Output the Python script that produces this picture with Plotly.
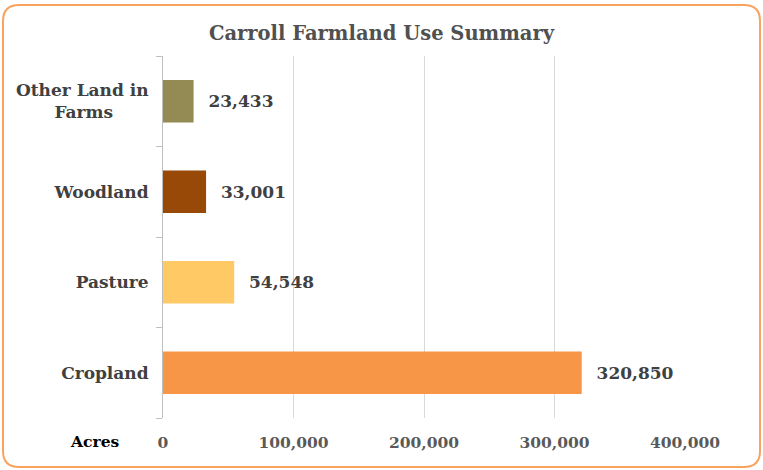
import plotly.graph_objects as go

categories = ["Cropland", "Pasture", "Woodland", "Other Land in<br>Farms"]
category_labels = ["Cropland", "Pasture", "Woodland",
                   "Other Land in<br>Farms" + "\u00a0" * 6]
acres = [320850, 54548, 33001, 23433]
bar_colors = ["#F79646", "#FFC966", "#984807", "#948A54"]
tick_vals = [0, 100000, 200000, 300000, 400000]
tick_text = ["0", "100,000", "200,000", "300,000", "400,000"]

W, H = 763, 470
L, R, T, B = 163, 78, 56, 52
pw, ph = W - L - R, H - T - B

def px(x):
    return (x - L) / pw

def py(y):
    return (H - B - y) / ph

FONT = "DejaVu Serif"
TXT = "#404040"

fig = go.Figure()
fig.add_trace(go.Bar(
    y=categories, x=acres, orientation="h",
    marker=dict(color=bar_colors, line=dict(width=0)),
    width=0.47,
    text=[f"{v:,}" for v in acres],
    texttemplate="<b>  %{text}</b>",
    textposition="outside",
    cliponaxis=False,
    textfont=dict(family=FONT, size=17, color=TXT),
    hoverinfo="skip",
))

# rounded border
x0, x1, y0, y1, r = 3, 760, 5, 467, 16
path = (
    f"M {px(x0 + r)} {py(y0)} L {px(x1 - r)} {py(y0)} "
    f"Q {px(x1)} {py(y0)} {px(x1)} {py(y0 + r)} "
    f"L {px(x1)} {py(y1 - r)} Q {px(x1)} {py(y1)} {px(x1 - r)} {py(y1)} "
    f"L {px(x0 + r)} {py(y1)} Q {px(x0)} {py(y1)} {px(x0)} {py(y1 - r)} "
    f"L {px(x0)} {py(y0 + r)} Q {px(x0)} {py(y0)} {px(x0 + r)} {py(y0)} Z"
)
fig.add_shape(type="path", path=path, xref="paper", yref="paper",
              line=dict(color="#F8A35E", width=2), fillcolor="rgba(0,0,0,0)",
              layer="below")

fig.add_annotation(text="<b>Acres</b>", x=px(94), y=py(441), xref="paper", yref="paper",
                   showarrow=False, xanchor="center", yanchor="middle",
                   font=dict(family=FONT, size=15.5, color="#000000"))

fig.update_layout(
    width=W, height=H,
    margin=dict(l=L, r=R, t=T, b=B),
    paper_bgcolor="white", plot_bgcolor="white",
    showlegend=False,
    title=dict(text="<b>Carroll Farmland Use Summary</b>", x=0.5, xref="container",
               xanchor="center", y=1 - 33 / H, yanchor="middle",
               font=dict(family=FONT, size=19.5, color="#505050")),
    font=dict(family=FONT, color=TXT),
)
fig.update_xaxes(range=[0, 400000], tickvals=tick_vals,
                 ticktext=[f"<b>{t}</b>" for t in tick_text],
                 showgrid=True, gridcolor="#D9D9D9", gridwidth=1,
                 zeroline=False, showline=False, ticks="",
                 tickfont=dict(family=FONT, size=15.5, color="#595959"),
                 ticklabelstandoff=13)
fig.update_yaxes(tickvals=categories, ticktext=[f"<b>{c}</b>" for c in category_labels],
                 showline=True, linecolor="#BFBFBF", linewidth=1,
                 ticks="outside", tickson="boundaries", ticklen=6, tickcolor="#BFBFBF",
                 tickfont=dict(family=FONT, size=17, color=TXT),
                 ticklabelstandoff=10)

fig.write_html("out.html", config={"displayModeBar": False},
               post_script="document.body.style.margin='0';")
